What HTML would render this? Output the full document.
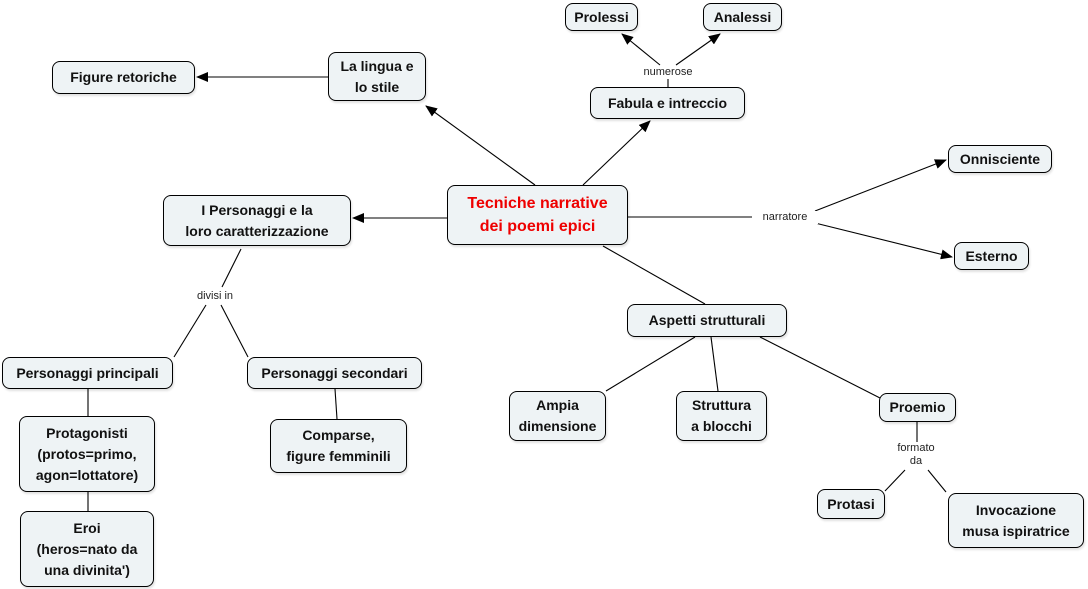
<!DOCTYPE html>
<html><head><meta charset="utf-8"><style>
body{margin:0;width:1088px;height:589px;background:#fff;position:relative;overflow:hidden;font-family:"Liberation Sans",sans-serif}
.n{position:absolute;box-sizing:border-box;border:1.3px solid #000;border-radius:8px;background:#eef3f5;display:flex;align-items:center;justify-content:center;text-align:center;font-weight:bold;font-size:14px;line-height:21px;color:#111;box-shadow:1px 2px 2px rgba(0,0,0,0.12)}
.l{position:absolute;font-size:11px;color:#222;text-align:center;line-height:13px;background:#fff}
svg{position:absolute;left:0;top:0}
</style></head><body>
<svg width="1088" height="589">
<defs><marker id="a" markerWidth="12" markerHeight="10" refX="11" refY="5" orient="auto" markerUnits="userSpaceOnUse"><path d="M0,0 L12,5 L0,10 z" fill="#000"/></marker></defs>
<g stroke="#000" stroke-width="1.1" fill="none">
<line x1="535" y1="185" x2="426" y2="106" marker-end="url(#a)"/>
<line x1="583" y1="185" x2="650" y2="121" marker-end="url(#a)"/>
<line x1="668" y1="87" x2="668" y2="79"/>
<line x1="660" y1="65" x2="622" y2="34" marker-end="url(#a)"/>
<line x1="676" y1="65" x2="720" y2="34" marker-end="url(#a)"/>
<line x1="328" y1="77" x2="197" y2="77" marker-end="url(#a)"/>
<line x1="447" y1="218" x2="353" y2="218" marker-end="url(#a)"/>
<line x1="628" y1="217" x2="755" y2="217"/>
<line x1="815" y1="211" x2="946" y2="160" marker-end="url(#a)"/>
<line x1="815" y1="223" x2="952" y2="257" marker-end="url(#a)"/>
<line x1="603" y1="246" x2="705" y2="304"/>
<line x1="241" y1="249" x2="222" y2="287"/>
<line x1="206" y1="305" x2="174" y2="357"/>
<line x1="221" y1="305" x2="248" y2="357"/>
<line x1="88" y1="389" x2="88" y2="416"/>
<line x1="88" y1="492" x2="88" y2="511"/>
<line x1="335" y1="389" x2="337" y2="419"/>
<line x1="695" y1="337" x2="606" y2="391"/>
<line x1="711" y1="337" x2="718" y2="391"/>
<line x1="760" y1="337" x2="880" y2="398"/>
<line x1="917" y1="422" x2="917" y2="445"/>
<line x1="905" y1="470" x2="885" y2="491"/>
<line x1="928" y1="470" x2="946" y2="492"/>
</g></svg>
<div class="n" style="left:447px;top:185px;width:181px;height:60px;color:#e00;font-size:16px;line-height:23px">Tecniche narrative<br>dei poemi epici</div>
<div class="n" style="left:328px;top:52px;width:98px;height:49px">La lingua e<br>lo stile</div>
<div class="n" style="left:52px;top:61px;width:143px;height:33px">Figure retoriche</div>
<div class="n" style="left:565px;top:3px;width:73px;height:28px">Prolessi</div>
<div class="n" style="left:703px;top:3px;width:79px;height:28px">Analessi</div>
<div class="n" style="left:590px;top:87px;width:155px;height:32px">Fabula e intreccio</div>
<div class="l" style="left:636px;top:66px;width:64px">numerose</div>
<div class="n" style="left:948px;top:145px;width:104px;height:28px">Onnisciente</div>
<div class="n" style="left:954px;top:242px;width:75px;height:28px">Esterno</div>
<div class="l" style="left:752px;top:211px;width:66px">narratore</div>
<div class="n" style="left:163px;top:195px;width:188px;height:51px">I Personaggi e la<br>loro caratterizzazione</div>
<div class="l" style="left:186px;top:290px;width:58px">divisi in</div>
<div class="n" style="left:2px;top:357px;width:171px;height:32px">Personaggi principali</div>
<div class="n" style="left:247px;top:357px;width:175px;height:32px">Personaggi secondari</div>
<div class="n" style="left:19px;top:416px;width:136px;height:76px">Protagonisti<br>(protos=primo,<br>agon=lottatore)</div>
<div class="n" style="left:20px;top:511px;width:134px;height:76px">Eroi<br>(heros=nato da<br>una divinita')</div>
<div class="n" style="left:270px;top:419px;width:137px;height:54px">Comparse,<br>figure femminili</div>
<div class="n" style="left:627px;top:304px;width:160px;height:33px">Aspetti strutturali</div>
<div class="n" style="left:509px;top:391px;width:97px;height:50px">Ampia<br>dimensione</div>
<div class="n" style="left:676px;top:391px;width:91px;height:50px">Struttura<br>a blocchi</div>
<div class="n" style="left:879px;top:393px;width:77px;height:29px">Proemio</div>
<div class="l" style="left:886px;top:442px;width:60px">formato<br>da</div>
<div class="n" style="left:817px;top:489px;width:68px;height:30px">Protasi</div>
<div class="n" style="left:948px;top:493px;width:136px;height:55px">Invocazione<br>musa ispiratrice</div>
</body></html>
